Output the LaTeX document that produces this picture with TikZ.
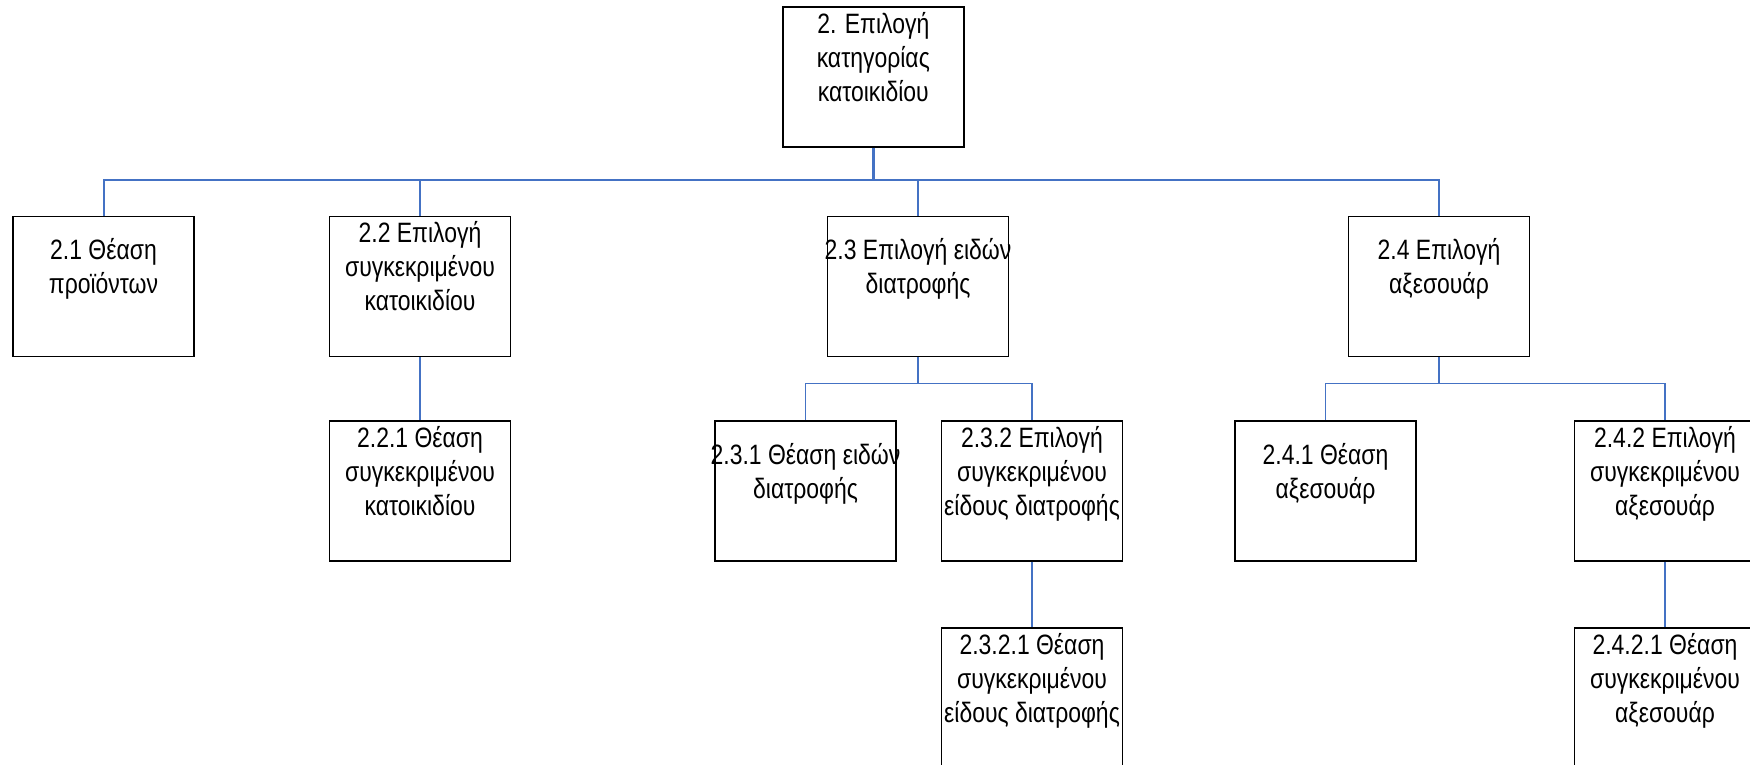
\documentclass[tikz,border=0pt]{standalone}
\usepackage{fontspec}
\setmainfont{Liberation Sans}[FakeStretch=0.82]
\begin{document}
\begin{tikzpicture}[x=1pt,y=-1pt,
  box/.style={draw=black, line width=1.9pt, fill=white, rectangle,
    minimum width=181pt, minimum height=140pt, inner sep=0pt},
  txt/.style={align=center, inner sep=0pt, yshift=15pt,
    font=\fontsize{28}{34}\selectfont,
    execute at begin node=\strut, execute at end node=\strut},
  stem/.style={draw=conblue, line width=2.7pt},
  bus/.style={draw=conblue, line width=2pt},
  sub/.style={draw=conblue, line width=1.6pt}]
\definecolor{conblue}{HTML}{4472C4}
\useasboundingbox (0,0) rectangle (1750,765);
\clip (0,0) rectangle (1750,765);

% junction points of the connector bars
\coordinate (j0) at (873.3,180);
\coordinate (j3) at (918,383.3);
\coordinate (j4) at (1439,383.3);

% root
\node[box] (n2) at (873.3,76.7) {};
% first level
\node[box] (n21) at (103.5,286.5) {};
\node[box] (n22) at (420,286.5) {};
\node[box] (n23) at (918,286.5) {};
\node[box] (n24) at (1439,286.5) {};
% second level
\node[box] (n221) at (420,490.7) {};
\node[box] (n231) at (805.5,490.7) {};
\node[box] (n232) at (1032,490.7) {};
\node[box] (n241) at (1325.5,490.7) {};
\node[box] (n242) at (1665,490.7) {};
% third level
\node[box] (n2321) at (1032,698.3) {};
\node[box] (n2421) at (1665,698.3) {};

% connectors
\draw[stem] (n2.south) -- (j0);
\draw[bus] (j0) -| (n21.north);
\draw[bus] (j0) -| (n22.north);
\draw[bus] (j0) -| (n23.north);
\draw[bus] (j0) -| (n24.north);
\draw[sub] (n22.south) -- (n221.north);
\draw[sub] (n23.south) -- (j3);
\draw[sub] (j3) -| (n231.north);
\draw[sub] (j3) -| (n232.north);
\draw[sub] (n232.south) -- (n2321.north);
\draw[sub] (n24.south) -- (j4);
\draw[sub] (j4) -| (n241.north);
\draw[sub] (j4) -| (n242.north);
\draw[sub] (n242.south) -- (n2421.north);

% labels
\node[txt] (t2) at (n2.center) {2. Επιλογή\\κατηγορίας\\κατοικιδίου};
\node[txt] (t21) at (n21.center) {2.1 Θέαση\\προϊόντων};
\node[txt] (t22) at (n22.center) {2.2 Επιλογή\\συγκεκριμένου\\κατοικιδίου};
\node[txt] (t23) at (n23.center) {2.3 Επιλογή ειδών\\διατροφής};
\node[txt] (t24) at (n24.center) {2.4 Επιλογή\\αξεσουάρ};
\node[txt] (t221) at (n221.center) {2.2.1 Θέαση\\συγκεκριμένου\\κατοικιδίου};
\node[txt] (t231) at (n231.center) {2.3.1 Θέαση ειδών\\διατροφής};
\node[txt] (t232) at (n232.center) {2.3.2 Επιλογή\\συγκεκριμένου\\είδους διατροφής};
\node[txt] (t241) at (n241.center) {2.4.1 Θέαση\\αξεσουάρ};
\node[txt] (t242) at (n242.center) {2.4.2 Επιλογή\\συγκεκριμένου\\αξεσουάρ};
\node[txt] (t2321) at (n2321.center) {2.3.2.1 Θέαση\\συγκεκριμένου\\είδους διατροφής};
\node[txt] (t2421) at (n2421.center) {2.4.2.1 Θέαση\\συγκεκριμένου\\αξεσουάρ};
\end{tikzpicture}
\end{document}
